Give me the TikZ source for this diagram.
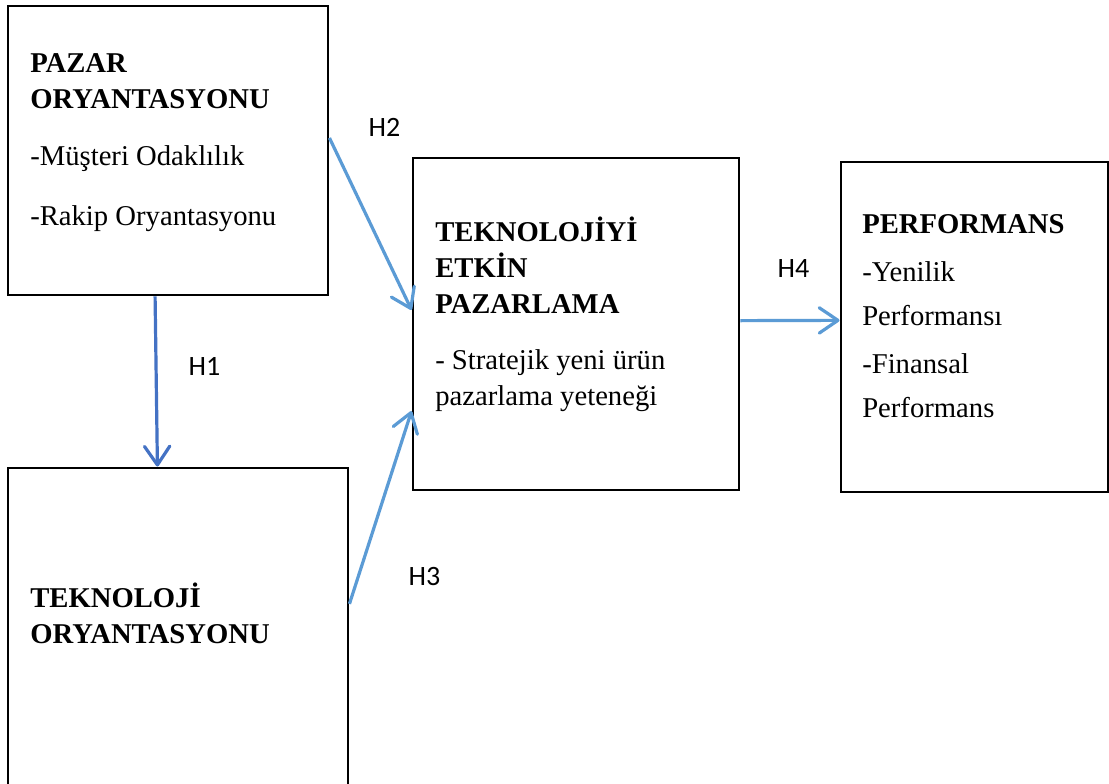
\documentclass[tikz,border=0pt]{standalone}
\usepackage{fontspec}
\setmainfont{Liberation Serif}
\newfontfamily\etiket{Carlito}
\usepackage{tikz}
\usetikzlibrary{arrows.meta,calc}
\definecolor{okmavi}{HTML}{5B9BD5}
\definecolor{koyumavi}{HTML}{4472C4}

\begin{document}
\begin{tikzpicture}[x=0.75pt,y=-0.75pt,
  kutu/.style={draw,line width=2.2pt,inner sep=0pt},
  yazi/.style={anchor=base west,align=left,inner sep=0pt,font=\fontsize{21.5}{27}\selectfont},
  hip/.style={anchor=base west,fill=white,inner sep=4pt,font=\etiket\fontsize{21}{25}\selectfont},
  ok/.style={line width=2.4pt,color=okmavi,-{Straight Barb[length=14pt,width=19pt,round]}}]
\fill[white] (0,0) rectangle (1109,784);
\useasboundingbox (0,0) rectangle (1109,784);

\node[kutu,minimum width=240pt,minimum height=216.75pt] (pazar) at (168,150.5) {};
\node[kutu,minimum width=255pt,minimum height=249pt] (tekor) at (178,634) {};
\node[kutu,minimum width=244.5pt,minimum height=249pt] (tek) at (576,324) {};
\node[kutu,minimum width=200.25pt,minimum height=247.5pt] (perf) at (974.5,327) {};

\node[yazi] (pazarYazi) at (30,226) {\textbf{PAZAR}\\\textbf{ORYANTASYONU}\\[16pt]-Müşteri Odaklılık\\[18pt]-Rakip Oryantasyonu};
\node[yazi] (tekorYazi) at (30,643) {\textbf{TEKNOLOJİ}\\\textbf{ORYANTASYONU}};
\node[yazi] (tekYazi) at (435,405) {\textbf{TEKNOLOJİYİ}\\\textbf{ETKİN}\\\textbf{PAZARLAMA}\\[15pt]- Stratejik yeni ürün\\pazarlama yeteneği};
\node[yazi,font=\fontsize{21.5}{33}\selectfont] (perfYazi) at (862,417) {\textbf{PERFORMANS}\\[3pt]-Yenilik\\Performansı\\[3pt]-Finansal\\Performans};

\draw[ok,color=koyumavi] ($(pazar.south west)!0.46!(pazar.south east)$) -- ($(tekor.north west)!0.44!(tekor.north east)$);
\draw[ok] ($(pazar.north east)!0.457!(pazar.south east)$) -- ($(tek.north west)!0.458!(tek.south west)$);
\draw[ok] ($(tekor.north east)!0.41!(tekor.south east)$) -- ($(tek.north west)!0.76!(tek.south west)$);
\draw[ok] ($(tek.north east)!0.49!(tek.south east)$) -- ($(perf.north west)!0.48!(perf.south west)$);

\node[hip] (h1) at (183,375) {H1};
\node[hip] (h2) at (363,137) {H2};
\node[hip] (h3) at (403,585) {H3};
\node[hip] (h4) at (772,277) {H4};
\end{tikzpicture}
\end{document}
